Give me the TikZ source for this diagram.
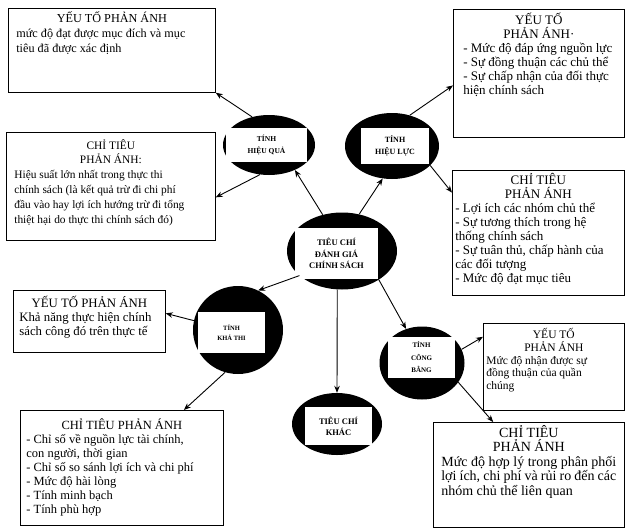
\documentclass[tikz,border=0pt]{standalone}
\usepackage{fontspec}
\setmainfont{Liberation Serif}
\usetikzlibrary{shapes.geometric,arrows.meta}

\tikzset{
  ovalnode/.style={ellipse, fill=black, inner sep=0pt},
  lblnode/.style={rectangle, fill=white, inner sep=0pt, align=center,
    font=\fontsize{7.5}{12}\selectfont\bfseries},
  infobox/.style={draw, line width=0.7pt, anchor=north west, inner ysep=3pt, inner xsep=6pt},
  arr/.style={-{Stealth[length=7pt,width=5.5pt]}, line width=0.9pt}
}

\begin{document}
\begin{tikzpicture}[x=1pt,y=-1pt]
  \useasboundingbox (0,0) rectangle (626,531);

  % ovals
  \node[ovalnode, minimum width=110pt, minimum height=77pt] (cen) at (342,251) {};
  \node[lblnode, minimum width=83pt, minimum height=51pt, font=\fontsize{8.5}{11.8}\selectfont\bfseries] (cen-lbl) at (336.5,253.5) {TIÊU CHÍ\\ĐÁNH GIÁ\\CHÍNH SÁCH};
  \node[ovalnode, minimum width=92pt, minimum height=60pt] (hq) at (269,145) {};
  \node[lblnode, minimum width=81pt, minimum height=34pt] (hq-lbl) at (266.5,145) {TÍNH\\HIỆU QUẢ};
  \node[ovalnode, minimum width=94pt, minimum height=66pt] (hl) at (392,146) {};
  \node[lblnode, minimum width=68pt, minimum height=36pt, font=\fontsize{8}{12}\selectfont\bfseries] (hl-lbl) at (395,146) {TÍNH\\HIỆU LỰC};
  \node[ovalnode, minimum width=90pt, minimum height=88pt] (kt) at (238,330) {};
  \node[lblnode, minimum width=67pt, minimum height=41pt, font=\fontsize{6.5}{10}\selectfont\bfseries] (kt-lbl) at (231.5,332.5) {TÍNH\\KHẢ THI};
  \node[ovalnode, minimum width=85pt, minimum height=73pt] (cb) at (422,363) {};
  \node[lblnode, minimum width=67pt, minimum height=41pt, font=\fontsize{7}{12.5}\selectfont\bfseries] (cb-lbl) at (421.5,357.5) {TÍNH\\CÔNG\\BẰNG};
  \node[ovalnode, minimum width=90pt, minimum height=62pt] (kh) at (337,424) {};
  \node[lblnode, minimum width=67pt, minimum height=38pt, font=\fontsize{8.5}{11}\selectfont\bfseries] (kh-lbl) at (338.5,426) {TIÊU CHÍ\\KHÁC};

  % boxes
  \node[infobox, inner xsep=8pt] (yt1) at (8,8) {\parbox[t][78pt][t]{191pt}{\fontsize{12.2}{15}\selectfont
    {\centering YẾU TỐ PHẢN ÁNH\par}\raggedright
    mức độ đạt được mục đích và mục\\tiêu đã được xác định}};
  \node[infobox, inner xsep=8pt, inner ysep=7pt] (ct1) at (6,132) {\parbox[t][94pt][t]{193pt}{\fontsize{11.4}{14.8}\selectfont
    {\centering CHỈ TIÊU\\PHẢN ÁNH:\par}\raggedright
    Hiệu suất lớn nhất trong thực thi\\chính sách (là kết quả trừ đi chi phí\\đầu vào hay lợi ích hướng trừ đi tổng\\thiệt hại do thực thi chính sách đó)}};
  \node[infobox, inner xsep=10pt, inner ysep=4pt] (yt2) at (453,9) {\parbox[t][120pt][t]{151pt}{\fontsize{13}{14}\selectfont
    {\centering YẾU TỐ\\PHẢN ÁNH·\par}\raggedright
    - Mức độ đáp ứng nguồn lực\\- Sự đồng thuận các chủ thể\\- Sự chấp nhận của đối thực\\hiện chính sách}};
  \node[infobox, inner xsep=3pt] (ct2) at (452,170) {\parbox[t][119pt][t]{166pt}{\fontsize{13}{14}\selectfont
    {\centering CHỈ TIÊU\\PHẢN ÁNH\par}\raggedright
    - Lợi ích các nhóm chủ thể\\- Sự tương thích trong hệ\\thống chính sách\\- Sự tuân thủ, chấp hành của\\các đối tượng\\- Mức độ đạt mục tiêu}};
  \node[infobox, inner xsep=6pt, inner ysep=6pt] (yt3) at (13,290) {\parbox[t][50pt][t]{140pt}{\fontsize{12.8}{14}\selectfont
    {\centering YẾU TỐ PHẢN ÁNH\par}\raggedright
    Khả năng thực hiện chính\\sách công đó trên thực tế}};
  \node[infobox, inner xsep=3pt, inner ysep=5pt] (yt4) at (483,323) {\parbox[t][77pt][t]{135pt}{\fontsize{11.5}{12.8}\selectfont
    {\centering YẾU TỐ\\PHẢN ÁNH\par}\raggedright
    Mức độ nhận được sự\\đồng thuận của quần\\chúng}};
  \node[infobox, inner xsep=6pt, inner ysep=8pt] (ct3) at (20,410) {\parbox[t][99pt][t]{191pt}{\fontsize{12.5}{14}\selectfont
    {\centering CHỈ TIÊU PHẢN ÁNH\par}\raggedright
    - Chỉ số về nguồn lực tài chính,\\con người, thời gian\\- Chỉ số so sánh lợi ích và chi phí\\- Mức độ hài lòng\\- Tính minh bạch\\- Tính phù hợp}};
  \node[infobox, inner xsep=8pt] (ct4) at (433,422) {\parbox[t][99pt][t]{175pt}{\fontsize{14}{14.5}\selectfont
    {\centering CHỈ TIÊU\\PHẢN ÁNH\par}\raggedright
    Mức độ hợp lý trong phân phối\\lợi ích, chi phí và rủi ro đến các\\nhóm chủ thể liên quan}};

  % arrows
  \draw[arr] (cen.118) -- (hq.-44);
  \draw[arr] (cen.65) -- (hl.-106);
  \draw[arr] (cen.-150) -- (kt.63);
  \draw[arr] (cen.-38) -- (cb.115);
  \draw[arr] (cen.-97) -- (kh.north);
  \draw[arr] (hq.121) -- (yt1.south east);
  \draw[arr] (hq.-107) -- (ct1.-6);
  \draw[arr] (hl.60) -- (yt2.-172);
  \draw[arr] (hl.-27) -- (ct2.155);
  \draw[arr] (kt.168) -- (yt3.6);
  \draw[arr] (kt.-107) -- (ct3.43);
  \draw[arr] (cb.19) -- (yt4.157);
  \draw[arr] (cb.-28) -- (ct4.124);
\end{tikzpicture}
\end{document}
